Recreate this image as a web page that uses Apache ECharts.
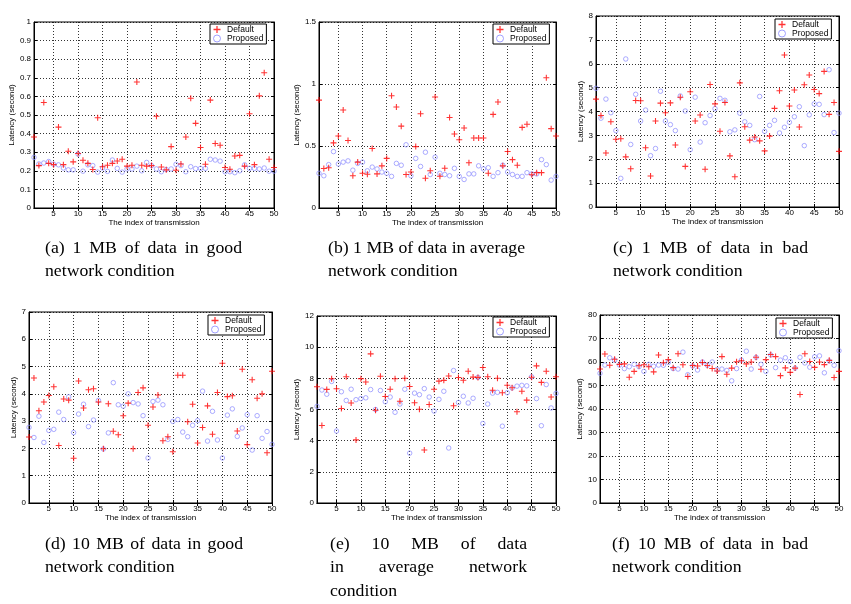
<!DOCTYPE html>
<html><head><meta charset="utf-8">
<script src="https://cdn.jsdelivr.net/npm/echarts@6/dist/echarts.min.js"></script>
<style>html,body{margin:0;padding:0;background:#fff}#c{width:851px;height:604px}</style>
</head><body><div id="c"></div>
<script>
const xTicks = [5,10,15,20,25,30,35,40,45,50];
const seriesNames = ['Default','Proposed'];
const xTitle = 'The index of transmission';
const yTitle = 'Latency (second)';

const defaultA = [0.382,0.228,0.567,0.24,0.233,0.435,0.233,0.305,0.248,0.293,0.257,0.24,0.207,0.485,0.222,0.23,0.24,0.253,0.262,0.225,0.23,0.677,0.23,0.225,0.228,0.493,0.22,0.205,0.33,0.203,0.237,0.382,0.59,0.455,0.325,0.235,0.58,0.347,0.337,0.218,0.208,0.28,0.283,0.225,0.507,0.233,0.603,0.727,0.262,0.218];
const proposedA = [0.272,0.237,0.242,0.25,0.235,0.232,0.215,0.205,0.205,0.29,0.198,0.232,0.228,0.193,0.215,0.197,0.258,0.213,0.193,0.21,0.21,0.225,0.2,0.245,0.228,0.21,0.195,0.207,0.21,0.235,0.228,0.195,0.222,0.212,0.213,0.213,0.262,0.258,0.252,0.195,0.195,0.19,0.2,0.232,0.213,0.213,0.21,0.215,0.198,0.198];

const defaultB = [0.87,0.318,0.325,0.525,0.58,0.79,0.545,0.26,0.37,0.28,0.272,0.48,0.275,0.34,0.40,0.905,0.815,0.66,0.27,0.29,0.495,0.76,0.24,0.30,0.895,0.256,0.32,0.73,0.597,0.55,0.645,0.365,0.565,0.565,0.565,0.28,0.755,0.855,0.34,0.455,0.39,0.345,0.65,0.675,0.268,0.285,0.285,1.05,0.64,0.58];
const proposedB = [0.28,0.26,0.35,0.455,0.355,0.37,0.38,0.305,0.36,0.37,0.30,0.33,0.315,0.29,0.28,0.255,0.36,0.345,0.51,0.26,0.40,0.335,0.45,0.27,0.41,0.28,0.27,0.26,0.32,0.255,0.23,0.275,0.275,0.34,0.315,0.325,0.255,0.285,0.345,0.29,0.27,0.255,0.255,0.285,0.275,0.275,0.39,0.35,0.225,0.255];

const defaultC = [4.52,3.83,2.26,3.57,2.84,2.86,2.1,1.6,4.46,4.45,2.48,1.3,3.6,4.35,3.95,4.36,2.6,4.6,1.7,4.83,3.6,3.85,1.58,5.13,4.32,3.17,4.38,2.14,1.27,5.2,3.36,2.8,2.93,2.77,2.35,2.97,4.13,4.87,6.37,4.23,4.9,3.35,5.12,5.53,4.92,4.75,5.68,3.88,4.38,2.33];
const proposedC = [4.97,3.72,4.52,3.95,3.2,1.2,6.2,2.62,4.72,3.6,4.06,2.15,2.45,4.85,3.6,3.45,3.2,4.65,4.02,2.4,4.6,2.72,3.53,3.83,4.12,4.55,4.47,3.15,3.23,3.93,3.57,3.42,2.82,4.63,3.17,3.42,3.63,3.1,3.34,3.55,3.78,4.2,2.57,3.86,4.32,4.3,3.87,5.75,3.12,3.93];

const defaultD = [2.42,4.58,3.38,3.7,3.94,4.26,2.11,3.81,3.77,1.64,4.47,3.48,4.15,4.19,3.7,1.99,3.64,2.63,2.5,3.2,3.66,1.99,4.05,4.22,2.85,3.52,3.96,2.28,2.43,1.88,4.68,4.68,2.98,3.62,2.2,2.77,3.56,2.52,4.05,5.12,3.9,3.93,2.64,4.9,2.14,4.52,3.84,4.0,1.84,4.83];
const proposedD = [2.77,2.4,3.18,2.22,2.66,2.7,3.33,3.06,3.89,2.58,3.26,3.62,2.8,3.04,3.76,1.98,2.57,4.41,3.6,3.55,4.0,3.68,3.63,3.2,1.65,3.72,3.77,3.6,2.33,2.99,3.06,2.6,2.43,2.85,3.02,4.1,2.27,3.36,2.31,1.65,3.22,3.45,2.44,2.75,3.24,1.94,3.2,2.37,2.62,2.15];

const defaultE = [7.46,4.97,7.29,7.97,7.33,6.06,8.1,6.42,4.05,7.98,7.77,9.57,5.95,8.13,6.83,7.3,7.97,6.53,8.0,7.48,6.43,6.02,3.4,6.32,7.3,7.82,7.87,8.15,6.24,8.05,7.88,8.45,8.08,8.06,8.7,8.1,7.23,8.0,7.08,7.56,7.4,5.86,7.17,6.6,8.07,8.8,7.74,8.45,6.8,8.1];
const proposedE = [6.2,7.25,6.98,7.8,4.62,7.14,6.58,7.3,6.63,6.7,6.75,7.28,6.0,7.22,6.5,6.8,5.82,6.35,7.3,3.2,7.05,6.95,7.34,6.8,5.9,6.65,7.17,3.53,8.5,6.45,6.85,6.42,6.72,8.06,5.1,6.35,7.05,7.1,4.93,7.08,7.38,7.5,7.55,7.52,8.1,6.7,4.96,7.6,6.1,7.03];

const defaultF = [57.0,63.4,58.6,61.2,59.0,59.2,53.5,56.0,58.4,58.8,58.0,55.8,63.0,59.7,61.0,57.6,63.5,58.8,53.8,58.5,58.3,59.8,58.5,57.2,56.2,62.3,54.8,57.4,60.1,60.5,59.2,60.0,62.0,56.9,61.0,63.2,62.3,54.2,57.5,55.6,57.4,46.2,63.5,60.2,57.7,60.0,58.9,60.7,53.4,56.0];
const proposedF = [55.2,58.7,61.8,60.8,58.7,57.2,58.0,59.0,58.0,56.0,59.0,58.2,58.7,58.6,59.8,57.2,57.0,64.2,54.6,58.3,56.6,60.0,58.6,60.0,56.8,57.0,56.4,52.0,57.2,60.8,64.6,57.0,62.0,59.0,56.0,63.0,57.6,60.8,61.8,60.2,57.4,62.0,59.6,57.8,62.2,62.6,55.4,60.4,58.6,64.8];

const yMaxes = [1, 1.5, 8, 7, 12, 80];
const yIntervals = [0.1, 0.5, 1, 1, 2, 10];

const captionA = [['(a)','1','MB','of','data','in','good'], ['network condition']];
const captionB = [['(b)','1','MB','of','data','in','average'], ['network condition']];
const captionC = [['(c)','1','MB','of','data','in','bad'], ['network condition']];
const captionD = [['(d)','10','MB','of','data','in','good'], ['network condition']];
const captionE = [['(e)','10','MB','of','data'], ['in','average','network'], ['condition']];
const captionF = [['(f)','10','MB','of','data','in','bad'], ['network condition']];

// ---------- layout ----------
const panels = [
  {def: defaultA, prop: proposedA, grid:{left:34, top:22, width:240, height:186}, yGap:15, legend:{left:210, top:24}, cap: captionA, capX:[45,242], capY:[249,272], justify:[true,false]},
  {def: defaultB, prop: proposedB, grid:{left:319, top:22, width:237, height:186}, yGap:15, legend:{left:493, top:24}, cap: captionB, capX:[328,525], capY:[249,272], justify:[true,false]},
  {def: defaultC, prop: proposedC, grid:{left:596, top:16, width:243, height:191}, yGap:10, legend:{left:775, top:19}, cap: captionC, capX:[613,808], capY:[249,272], justify:[true,false]},
  {def: defaultD, prop: proposedD, grid:{left:29, top:312, width:243, height:191}, yGap:10, legend:{left:208, top:315}, cap: captionD, capX:[45,243], capY:[545,568], justify:[true,false]},
  {def: defaultE, prop: proposedE, grid:{left:317, top:316, width:239, height:187}, yGap:12, legend:{left:493, top:317}, cap: captionE, capX:[330,527], capY:[545,568,592], justify:[true,true,false]},
  {def: defaultF, prop: proposedF, grid:{left:600, top:315, width:239, height:188}, yGap:13, legend:{left:776, top:318}, cap: captionF, capX:[612,808], capY:[545,568], justify:[true,false]}
];

const SANS = '"Liberation Sans", Arial, sans-serif';
const SERIF = '"Liberation Serif", "Times New Roman", serif';
const plusPath = 'path://M4.1,0H5.9V4.1H10V5.9H5.9V10H4.1V5.9H0V4.1H4.1Z';
const RED = '#ff0000';
const BLUE = '#8a8aff';
const dotted = {color:'#000', width:0.8, type:[1,2]};

const grids=[], xAxes=[], yAxes=[], series=[], legends=[], graphics=[];

const mctx = document.createElement('canvas').getContext('2d');
const CAP_SIZE = 17;
mctx.font = CAP_SIZE + 'px ' + SERIF;
// horizontal stretch so the un-spread reference line "(b) ... average" fills its width
const CAP_SX = 197 / mctx.measureText(captionB[0].join(' ')).width;

function capText(text, x, y) {
  return {type:'text', x:x, y:y, scaleX:CAP_SX, silent:true,
    style:{text:text, fontSize:CAP_SIZE, fontFamily:SERIF, fill:'#000', verticalAlign:'middle', align:'left'}};
}

panels.forEach((p, i) => {
  grids.push(Object.assign({show:true, borderColor:'#000', borderWidth:1, backgroundColor:'#fff', containLabel:false}, p.grid));
  const ymax = yMaxes[i], yint = yIntervals[i];
  xAxes.push({
    gridIndex:i, type:'value', min:1, max:50, position:'bottom',
    axisLine:{show:true, lineStyle:{color:'#000', width:1}},
    axisTick:{show:true, inside:true, length:3, customValues:xTicks, lineStyle:{color:'#000'}},
    axisLabel:{show:true, customValues:xTicks, margin:2, fontSize:8, color:'#000', fontFamily:SANS},
    splitLine:{show:true, lineStyle:dotted},
    name:xTitle, nameLocation:'middle', nameGap:10,
    nameTextStyle:{fontSize:8, color:'#000', fontFamily:SANS}
  });
  xAxes.push({
    gridIndex:i, type:'value', min:1, max:50, position:'top',
    axisLine:{show:true, lineStyle:{color:'#000', width:1}},
    axisTick:{show:true, inside:true, length:3, customValues:xTicks, lineStyle:{color:'#000'}},
    axisLabel:{show:false}, splitLine:{show:false}
  });
  yAxes.push({
    gridIndex:i, type:'value', min:0, max:ymax, interval:yint, position:'left',
    axisLine:{show:true, lineStyle:{color:'#000', width:1}},
    axisTick:{show:true, inside:true, length:3, lineStyle:{color:'#000'}},
    axisLabel:{show:true, margin:3, fontSize:8, color:'#000', fontFamily:SANS},
    splitLine:{show:true, lineStyle:dotted},
    name:yTitle, nameLocation:'middle', nameGap:p.yGap, nameRotate:90,
    nameTextStyle:{fontSize:8, color:'#000', fontFamily:SANS}
  });
  yAxes.push({
    gridIndex:i, type:'value', min:0, max:ymax, interval:yint, position:'right',
    axisLine:{show:true, lineStyle:{color:'#000', width:1}},
    axisTick:{show:true, inside:true, length:3, lineStyle:{color:'#000'}},
    axisLabel:{show:false}, splitLine:{show:false}
  });
  series.push({
    type:'scatter', name:seriesNames[0], xAxisIndex:2*i, yAxisIndex:2*i,
    data:p.def.map((v,k)=>[k+1, v]),
    symbol:plusPath, symbolSize:6, itemStyle:{color:RED}, z:3, silent:true, animation:false
  });
  series.push({
    type:'scatter', name:seriesNames[1], xAxisIndex:2*i, yAxisIndex:2*i,
    data:p.prop.map((v,k)=>[k+1, v]),
    symbol:'circle', symbolSize:4.5,
    itemStyle:{color:'rgba(0,0,0,0)', borderColor:BLUE, borderWidth:0.9}, z:2, silent:true, animation:false
  });
  legends.push({
    left:p.legend.left, top:p.legend.top, orient:'vertical',
    backgroundColor:'#fff', borderColor:'#000', borderWidth:1,
    padding:[1,3,1,3], itemGap:0, itemWidth:8, itemHeight:7,
    selectedMode:false,
    textStyle:{fontSize:8.5, color:'#000', fontFamily:SANS, padding:[0,0,0,1]},
    data:[
      {name:seriesNames[0], icon:plusPath, itemStyle:{color:RED, borderWidth:0}},
      {name:seriesNames[1], icon:'circle', itemStyle:{color:'rgba(0,0,0,0)', borderColor:BLUE, borderWidth:1}}
    ]
  });
  // captions
  p.cap.forEach((words, li) => {
    const y = p.capY[li];
    const x0 = p.capX[0], x1 = p.capX[1];
    if (p.justify[li] && words.length > 1) {
      const ws = words.map(w => mctx.measureText(w).width * CAP_SX);
      const total = ws.reduce((a,b)=>a+b, 0);
      const minGap = mctx.measureText(' ').width * CAP_SX * 0.8;
      const gap = Math.max(minGap, (x1 - x0 - total) / (words.length - 1));
      let x = x0;
      words.forEach((w, wi) => {
        graphics.push(capText(w, x, y));
        x += ws[wi] + gap;
      });
    } else {
      graphics.push(capText(words.join(' '), x0, y));
    }
  });
});

const chart = echarts.init(document.getElementById('c'), null, {renderer:'canvas'});
chart.setOption({
  backgroundColor:'#fff',
  animation:false,
  grid:grids, xAxis:xAxes, yAxis:yAxes, series:series, legend:legends,
  graphic:{elements:graphics}
});
</script>
</body></html>
